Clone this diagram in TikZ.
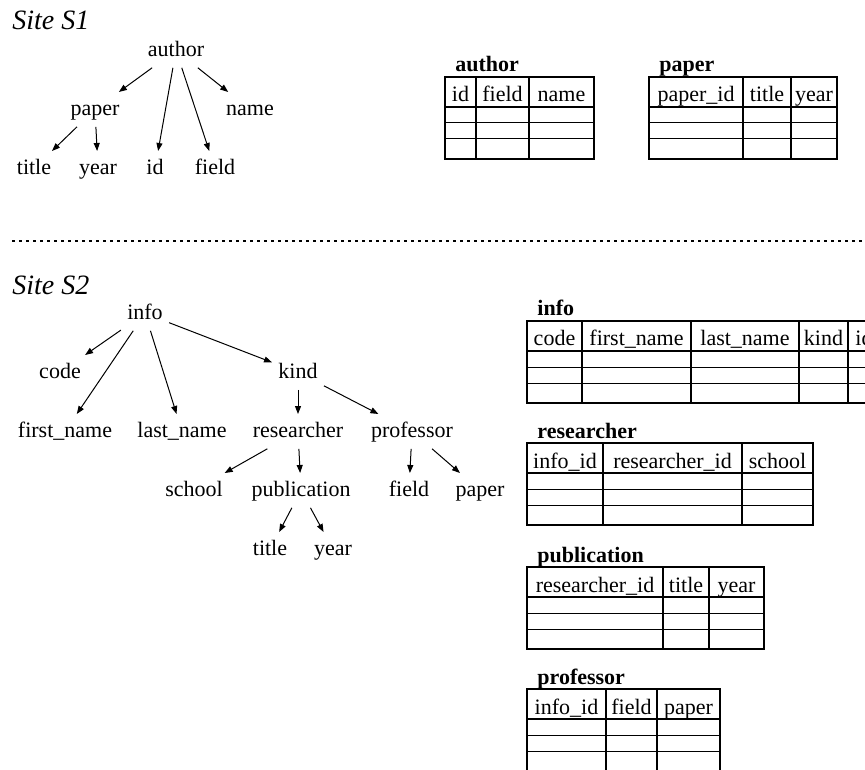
\documentclass[tikz,border=0pt]{standalone}
\usepackage{fontspec}
\setmainfont{Liberation Serif}
\usetikzlibrary{arrows.meta}
\tikzstyle{elem} = [rectangle, minimum height=17pt, inner xsep=3pt, inner ysep=0pt, text height=0.7em, text depth=0.1em, font=\fontsize{11}{13}\selectfont]
\tikzstyle{arrow} = [line width=0.5pt,->,>={Triangle[length=4pt,width=3pt]}]
\tikzstyle{site} = [font=\fontsize{14}{16}\selectfont\itshape, anchor=base west, inner sep=0pt]
\tikzstyle{tabtitle} = [font=\fontsize{11}{13}\selectfont\bfseries, anchor=base west, inner sep=0pt]
\tikzstyle{colhead} = [font=\fontsize{11}{13}\selectfont, anchor=base, inner sep=0pt]
\tikzstyle{tabline} = [line width=1.2pt]
\tikzstyle{rowline} = [line width=0.5pt]
\tikzstyle{sitesep} = [line width=1.4pt, dash pattern=on 1.5pt off 2pt]

% table: title, left, top, columns left/right/header
\newcommand{\dbtable}[4]{%
  \node[tabtitle] at (#2+10,#3-5) {#1};
  \foreach \l/\r/\h in {#4} {
    \draw[tabline] (\l,#3) rectangle (\r,#3+30);
    \draw[tabline] (\l,#3+30) rectangle (\r,#3+82);
    \draw[rowline] (\l,#3+46) -- (\r,#3+46) (\l,#3+62) -- (\r,#3+62);
    \node[colhead] at ({(\l+\r)/2},#3+25) {\h};
  }
}

\begin{document}
\begin{tikzpicture}[x=0.5pt, y=-0.5pt, node distance=29.5pt]
\useasboundingbox (0,0) rectangle (865,769);
\clip (0,0) rectangle (865,769);

% site S1
\node (s1) [site] at (12,30) {Site S1};
\node (author) [elem] at (176,50.4) {author};
\node (paper) [elem, below of=author, xshift=-40.5pt] {paper};
\node (name) [elem, below of=author, xshift=37pt] {name};
\node (title) [elem, below of=paper, xshift=-30.5pt] {title};
\node (year) [elem, below of=paper, xshift=1.5pt] {year};
\node (id) [elem, below of=paper, xshift=30pt] {id};
\node (field) [elem, below of=paper, xshift=60pt] {field};

\draw [arrow] (author) -- (paper);
\draw [arrow] (author) -- (id);
\draw [arrow] (author) -- (field);
\draw [arrow] (author) -- (name);
\draw [arrow] (paper) -- (title);
\draw [arrow] (paper) -- (year);

\dbtable{author}{445}{77}{445/476/id, 476/529/field, 529/594/name}
\dbtable{paper}{649}{77}{649/743/paper\_id, 743/791/title, 791/837/year}

\draw [sitesep] (12,241) -- (870,241);

% site S2
\node (s2) [site] at (12,295) {Site S2};
\node (info) [elem] at (145,313.4) {info};
\node (code) [elem, below of=info, xshift=-42.5pt] {code};
\node (kind) [elem, below of=info, xshift=76.5pt] {kind};
\node (firstname) [elem, below of=code, xshift=2.5pt] {first\_name};
\node (lastname) [elem, below of=code, xshift=61pt] {last\_name};
\node (researcher) [elem, below of=kind] {researcher};
\node (professor) [elem, below of=kind, xshift=57pt] {professor};
\node (school) [elem, below of=researcher, xshift=-52pt] {school};
\node (publication) [elem, below of=researcher, xshift=1.5pt] {publication};
\node (pfield) [elem, below of=professor, xshift=-1.5pt] {field};
\node (ppaper) [elem, below of=professor, xshift=34pt] {paper};
\node (ptitle) [elem, below of=publication, xshift=-15.5pt] {title};
\node (pyear) [elem, below of=publication, xshift=16pt] {year};

\draw [arrow] (info) -- (code);
\draw [arrow] (info) -- (firstname);
\draw [arrow] (info) -- (lastname);
\draw [arrow] (info) -- (kind);
\draw [arrow] (kind) -- (researcher);
\draw [arrow] (kind) -- (professor);
\draw [arrow] (researcher) -- (school);
\draw [arrow] (researcher) -- (publication);
\draw [arrow] (professor) -- (pfield);
\draw [arrow] (professor) -- (ppaper);
\draw [arrow] (publication) -- (ptitle);
\draw [arrow] (publication) -- (pyear);

\dbtable{info}{527}{321}{527/582/code, 582/691/first\_name, 691/799/last\_name, 799/848/kind, 848/880/id}
\dbtable{researcher}{527}{443}{527/603/info\_id, 603/742/researcher\_id, 742/813/school}
\dbtable{publication}{527}{567}{527/663/researcher\_id, 663/709/title, 709/764/year}
\dbtable{professor}{527}{689}{527/606/info\_id, 606/657/field, 657/720/paper}

\end{tikzpicture}
\end{document}
